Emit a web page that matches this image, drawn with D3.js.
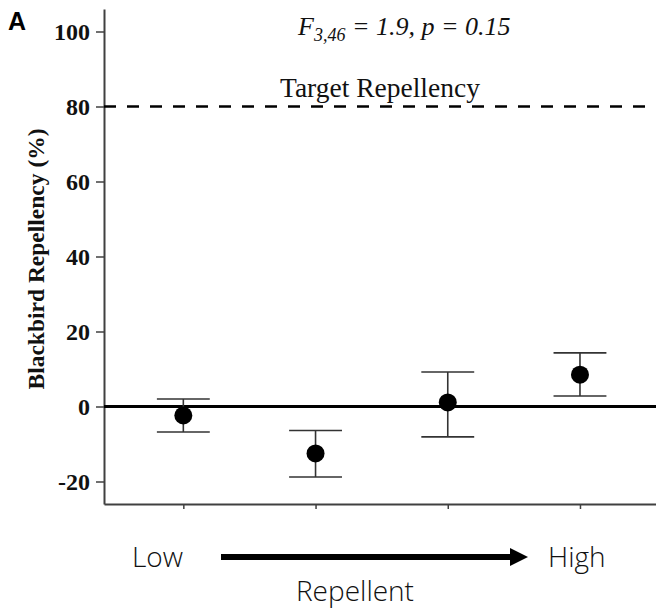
<!DOCTYPE html>
<html>
<head>
<meta charset="utf-8">
<script src="https://cdn.jsdelivr.net/npm/d3@7"></script>
<style>
  body { margin: 0; background: #fff; }
  svg { display: block; }
</style>
</head>
<body>
<div id="chart"></div>
<script>
// repellent concentration, low -> high
var groups = [1, 2, 3, 4];
var means = [-2.4, -12.5, 1.1, 8.5];
var upper = [2.0, -6.4, 9.2, 14.3];
var lower = [-6.8, -18.8, -8.1, 2.8];
var yTicks = [-20, 0, 20, 40, 60, 80, 100];
var targetValue = 80;

var width = 656, height = 610;

var svg = d3.select("#chart").append("svg")
    .attr("width", width)
    .attr("height", height);

var x = d3.scaleLinear().domain([0.4, 4.575]).range([104, 656]);
var y = d3.scaleLinear().domain([-26, 106]).range([504, 9]);

var axisColor = "#404040";
var serif = "'Liberation Serif', 'Times New Roman', serif";
var sans = "'Open Sans', 'Noto Sans', sans-serif";

// y axis
var yAxis = svg.append("g")
    .attr("transform", "translate(" + x.range()[0] + ",0)")
    .call(d3.axisLeft(y).tickValues(yTicks).tickSize(8).tickSizeOuter(0).tickPadding(6)
      .tickFormat(function(d) { return d < 0 ? "-" + Math.abs(d) : d; }));
yAxis.select(".domain").attr("stroke", axisColor).attr("stroke-width", 2);
yAxis.selectAll(".tick line").attr("stroke", axisColor).attr("stroke-width", 1.5);
yAxis.selectAll("text")
    .attr("fill", "#111")
    .style("font-family", serif)
    .style("font-weight", "bold")
    .style("font-size", "24px");

// x axis
var xAxis = svg.append("g")
    .attr("transform", "translate(0," + y.range()[0] + ")")
    .call(d3.axisBottom(x).tickValues(groups).tickSize(5).tickSizeOuter(0).tickFormat(""));
xAxis.select(".domain").attr("stroke", axisColor).attr("stroke-width", 2);
xAxis.selectAll(".tick line").attr("stroke", axisColor).attr("stroke-width", 1.5);

// zero line
svg.append("line")
    .attr("x1", x.range()[0]).attr("x2", x.range()[1])
    .attr("y1", y(0)).attr("y2", y(0))
    .attr("stroke", "#000")
    .attr("stroke-width", 3);

// target line
svg.append("line")
    .attr("x1", x.range()[0]).attr("x2", x.range()[1])
    .attr("y1", y(targetValue)).attr("y2", y(targetValue))
    .attr("stroke", "#000")
    .attr("stroke-width", 2.5)
    .attr("stroke-dasharray", "12,11");

svg.append("text")
    .text("Target Repellency")
    .attr("x", 280).attr("y", y(targetValue) - 10)
    .style("font-family", serif)
    .style("font-size", "27.5px")
    .attr("fill", "#111");

// error bars
var bars = svg.append("g").selectAll("g")
    .data(groups)
    .join("g")
    .attr("stroke", "#333")
    .attr("stroke-width", 1.6);

bars.append("line")
    .attr("x1", function(d) { return x(d); }).attr("x2", function(d) { return x(d); })
    .attr("y1", function(d, i) { return y(upper[i]); })
    .attr("y2", function(d, i) { return y(lower[i]); });
bars.append("line")
    .attr("x1", function(d) { return x(d - 0.2); }).attr("x2", function(d) { return x(d + 0.2); })
    .attr("y1", function(d, i) { return y(upper[i]); })
    .attr("y2", function(d, i) { return y(upper[i]); });
bars.append("line")
    .attr("x1", function(d) { return x(d - 0.2); }).attr("x2", function(d) { return x(d + 0.2); })
    .attr("y1", function(d, i) { return y(lower[i]); })
    .attr("y2", function(d, i) { return y(lower[i]); });

// means
svg.append("g").selectAll("circle")
    .data(groups)
    .join("circle")
    .attr("cx", function(d) { return x(d); })
    .attr("cy", function(d, i) { return y(means[i]); })
    .attr("r", 9)
    .attr("fill", "#000");

// y title
svg.append("text")
    .text("Blackbird Repellency (%)")
    .attr("text-anchor", "middle")
    .attr("transform", "translate(44,259) rotate(-90)")
    .style("font-family", serif)
    .style("font-weight", "bold")
    .style("font-size", "23.5px")
    .attr("fill", "#111");

// panel letter
svg.append("text")
    .text("A")
    .attr("x", 8).attr("y", 30)
    .style("font-family", "'Liberation Sans', Arial, sans-serif")
    .style("font-weight", "bold")
    .style("font-size", "25px")
    .attr("fill", "#000");

// stats
var stat = svg.append("text")
    .attr("x", 298).attr("y", 35)
    .style("font-family", serif)
    .style("font-style", "italic")
    .style("font-size", "26px")
    .attr("fill", "#111");
stat.append("tspan").text("F");
stat.append("tspan").text("3,46").attr("dy", 6).style("font-size", "18px");
stat.append("tspan").text(" = 1.9, p = 0.15").attr("dy", -6);

// bottom annotation
svg.append("defs").append("marker")
    .attr("id", "head")
    .attr("viewBox", "0 0 10 10")
    .attr("refX", 0).attr("refY", 5)
    .attr("markerWidth", 3).attr("markerHeight", 3)
    .attr("orient", "auto")
    .append("path")
    .attr("d", "M0,0 L10,5 L0,10 Z")
    .attr("fill", "#000");

svg.append("line")
    .attr("x1", 221).attr("x2", 510)
    .attr("y1", 557).attr("y2", 557)
    .attr("stroke", "#000")
    .attr("stroke-width", 6)
    .attr("marker-end", "url(#head)");

svg.append("text").text("Low")
    .attr("x", 132).attr("y", 567)
    .style("font-family", sans).style("font-weight", 300).style("font-size", "28px")
    .attr("fill", "#111");
svg.append("text").text("High")
    .attr("x", 548).attr("y", 567)
    .style("font-family", sans).style("font-weight", 300).style("font-size", "28px")
    .attr("fill", "#111");
svg.append("text").text("Repellent")
    .attr("x", 355).attr("y", 601)
    .attr("text-anchor", "middle")
    .style("font-family", sans).style("font-weight", 300).style("font-size", "28px")
    .attr("fill", "#111");
</script>
</body>
</html>
